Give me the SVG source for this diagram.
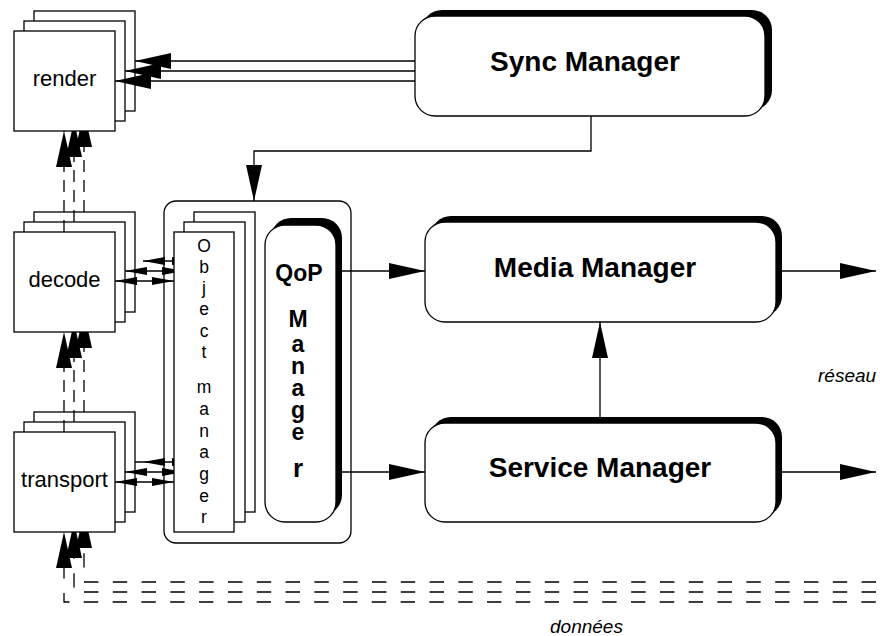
<svg xmlns="http://www.w3.org/2000/svg" width="880" height="636" viewBox="0 0 880 636">
<style>
.box{fill:#fff;stroke:#000;stroke-width:1.3}
.ln{fill:none;stroke:#000;stroke-width:1.3}
.dv{stroke-dasharray:12 8}
.dh{stroke-dasharray:14.4 14.4}
.sh{fill:#000}
.lbl{font-family:"Liberation Sans",Arial,sans-serif;font-size:22px;text-anchor:middle;fill:#000}
.big{font-family:"Liberation Sans",Arial,sans-serif;font-size:28px;font-weight:bold;text-anchor:middle;fill:#000}
.qop{font-family:"Liberation Sans",Arial,sans-serif;font-size:23px;font-weight:bold;text-anchor:middle;fill:#000}
.om{font-family:"Liberation Sans",Arial,sans-serif;font-size:17.5px;text-anchor:middle;fill:#000}
.it{font-family:"Liberation Sans",Arial,sans-serif;font-size:19px;font-style:italic;fill:#000}
</style>
<defs>
<marker id="ah" markerUnits="userSpaceOnUse" markerWidth="36" markerHeight="16" refX="36" refY="8" orient="auto-start-reverse"><path d="M0,0L36,8L0,16z" fill="#000"/></marker>
<marker id="as" markerUnits="userSpaceOnUse" markerWidth="22" markerHeight="8" refX="22" refY="4" orient="auto-start-reverse"><path d="M0,0L22,4L0,8z" fill="#000"/></marker>
</defs>
<rect width="880" height="636" fill="#fff"/>

<!-- back layers of stacked nodes -->
<g id="render-layers">
<rect class="box" x="34" y="11" width="101" height="100"/>
<rect class="box" x="24" y="21" width="101" height="100"/>
</g>
<g id="decode-layers">
<rect class="box" x="34" y="212" width="101" height="100"/>
<rect class="box" x="24" y="222" width="101" height="100"/>
</g>
<g id="transport-layers">
<rect class="box" x="34" y="412" width="101" height="100"/>
<rect class="box" x="24" y="422" width="101" height="100"/>
</g>
<g id="qop-container">
<rect class="box" x="164" y="201" width="187" height="342" rx="12"/>
</g>
<g id="object-manager-layers">
<rect class="box" x="194" y="212" width="61" height="300"/>
<rect class="box" x="184" y="222" width="61" height="300"/>
</g>

<g id="connectors">
<!-- Sync -> render -->
<line class="ln" x1="415" y1="61" x2="135" y2="61" marker-end="url(#ah)"/>
<line class="ln" x1="415" y1="71" x2="125" y2="71" marker-end="url(#ah)"/>
<line class="ln" x1="415" y1="81" x2="115" y2="81" marker-end="url(#ah)"/>
<!-- Sync -> QoP container -->
<path class="ln" d="M591,116V151H254V201" marker-end="url(#ah)"/>
<!-- decode -> render -->
<line class="ln dv" x1="64" y1="232" x2="64" y2="131" marker-end="url(#ah)"/>
<line class="ln dv" x1="74" y1="222" x2="74" y2="121" marker-end="url(#ah)"/>
<line class="ln dv" x1="84" y1="212" x2="84" y2="111" marker-end="url(#ah)"/>
<!-- transport -> decode -->
<line class="ln dv" x1="64" y1="432" x2="64" y2="332" marker-end="url(#ah)"/>
<line class="ln dv" x1="74" y1="422" x2="74" y2="322" marker-end="url(#ah)"/>
<line class="ln dv" x1="84" y1="412" x2="84" y2="312" marker-end="url(#ah)"/>
<!-- données -> transport -->
<path class="ln dh" d="M64,532V602H876" style="stroke-dashoffset:25.4" marker-start="url(#ah)"/>
<path class="ln dh" d="M74,522V592H876" style="stroke-dashoffset:6.4" marker-start="url(#ah)"/>
<path class="ln dh" d="M84,512V582H876" style="stroke-dashoffset:16.4" marker-start="url(#ah)"/>
<!-- decode <-> object manager -->
<line class="ln" x1="143" y1="261" x2="194" y2="261" marker-start="url(#as)" marker-end="url(#as)"/>
<line class="ln" x1="125" y1="271" x2="184" y2="271" marker-start="url(#as)" marker-end="url(#as)"/>
<line class="ln" x1="115" y1="281" x2="174" y2="281" marker-start="url(#as)" marker-end="url(#as)"/>
<!-- transport <-> object manager -->
<line class="ln" x1="135" y1="462" x2="194" y2="462" marker-end="url(#as)"/>
<path d="M143,462L165,458V466z" fill="#000"/>
<line class="ln" x1="125" y1="472" x2="184" y2="472" marker-start="url(#as)" marker-end="url(#as)"/>
<line class="ln" x1="115" y1="482" x2="174" y2="482" marker-start="url(#as)" marker-end="url(#as)"/>
<!-- QoP -> Media / Service -->
<line class="ln" x1="342" y1="271" x2="425" y2="271" marker-end="url(#ah)"/>
<line class="ln" x1="342" y1="472" x2="425" y2="472" marker-end="url(#ah)"/>
<!-- Service -> Media -->
<line class="ln" x1="600" y1="417" x2="600" y2="322" marker-end="url(#ah)"/>
<!-- to network -->
<line class="ln" x1="782" y1="271" x2="876" y2="271" marker-end="url(#ah)"/>
<line class="ln" x1="782" y1="472" x2="876" y2="472" marker-end="url(#ah)"/>
</g>

<g id="render">
<rect class="box" x="14" y="31" width="101" height="100"/>
<text class="lbl" x="64.5" y="86">render</text>
</g>
<g id="decode">
<rect class="box" x="14" y="232" width="101" height="100"/>
<text class="lbl" x="64.5" y="287">decode</text>
</g>
<g id="transport">
<rect class="box" x="14" y="432" width="101" height="100"/>
<text class="lbl" x="64.5" y="487">transport</text>
</g>

<g id="object-manager">
<rect class="box" x="174" y="232" width="60" height="300"/>
<text class="om"><tspan x="204" y="252">O</tspan><tspan x="204" y="273">b</tspan><tspan x="204" y="294">j</tspan><tspan x="204" y="315">e</tspan><tspan x="204" y="337">c</tspan><tspan x="204" y="358">t</tspan><tspan x="204" y="393">m</tspan><tspan x="204" y="415">a</tspan><tspan x="204" y="437">n</tspan><tspan x="204" y="458">a</tspan><tspan x="204" y="480">g</tspan><tspan x="204" y="502">e</tspan><tspan x="204" y="523">r</tspan></text>
</g>

<g id="qop-manager">
<rect class="sh" x="271" y="218" width="71" height="297" rx="20"/>
<rect class="box" x="265" y="225" width="71" height="297" rx="20"/>
<text class="qop" x="299" y="281">QoP</text>
<text class="qop"><tspan x="298" y="327">M</tspan><tspan x="298" y="352">a</tspan><tspan x="298" y="374">n</tspan><tspan x="298" y="396">a</tspan><tspan x="298" y="418">g</tspan><tspan x="298" y="440">e</tspan><tspan x="298" y="477" style="font-size:26px">r</tspan></text>
</g>

<g id="sync-manager">
<rect class="sh" x="422" y="10" width="350" height="100" rx="20"/>
<rect class="box" x="415" y="16" width="350" height="100" rx="20"/>
<text class="big" x="585" y="71">Sync Manager</text>
</g>
<g id="media-manager">
<rect class="sh" x="431" y="216" width="351" height="100" rx="20"/>
<rect class="box" x="425" y="222" width="351" height="100" rx="20"/>
<text class="big" x="595" y="277">Media Manager</text>
</g>
<g id="service-manager">
<rect class="sh" x="431" y="417" width="351" height="99" rx="20"/>
<rect class="box" x="425" y="423" width="351" height="99" rx="20"/>
<text class="big" x="600" y="477">Service Manager</text>
</g>

<text class="it" x="818" y="382">réseau</text>
<text class="it" x="550" y="633">données</text>
</svg>
